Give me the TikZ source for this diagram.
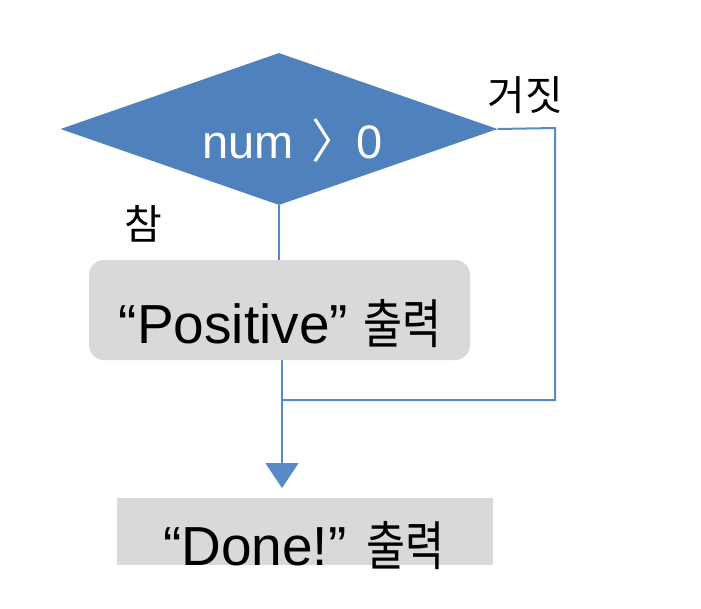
\documentclass[tikz,border=0pt]{standalone}
\usepackage{fontspec}
\setmainfont{Liberation Sans}
\newfontfamily\cjk{Noto Sans CJK KR}
\newfontfamily\cjkp[RawFeature=+palt]{Noto Sans CJK KR}
\newfontfamily\cjkn[FakeStretch=0.8]{Noto Sans CJK KR}
\usetikzlibrary{shapes.geometric,arrows.meta}
\definecolor{dblue}{HTML}{4F81BD}
\definecolor{lblue}{HTML}{5A8AC6}
\definecolor{boxgray}{HTML}{D9D9D9}
\begin{document}
\begin{tikzpicture}[x=1pt,y=-1pt,
  conn/.style={draw=lblue, line width=2pt},
  decision/.style={diamond, fill=dblue, draw=none, inner sep=0pt,
    minimum width=437pt, minimum height=152pt},
  procbox/.style={rectangle, fill=boxgray, draw=none, inner sep=0pt},
  bigtxt/.style={inner sep=0pt, anchor=base, font=\fontsize{55}{60}\selectfont},
  lbl/.style={inner sep=0pt, font=\cjk\fontsize{41}{45}\selectfont}]
\useasboundingbox (0,0) rectangle (701,608);
\node[decision] (dec) at (279,129) {};
\node[inner sep=0pt, anchor=base, text=white, font=\fontsize{47}{52}\selectfont] (dectxt) at (292.5,158) {num\hspace{19pt}{\cjkp 〉}\hspace{20pt}0};
\node[procbox, rounded corners=15pt, minimum width=381pt, minimum height=100pt] (pos) at (279.5,310) {};
\node[bigtxt] (postxt) at (280,343) {“Positive” {\cjkn\fontsize{53}{60}\selectfont 출력}};
\node[procbox, minimum width=376pt, minimum height=67pt] (done) at (305,531.5) {};
\node[bigtxt] (donetxt) at (304,565) {“Done!” {\cjkn\fontsize{53}{60}\selectfont 출력}};
\node[lbl] (false) at (525,95) {거짓};
\node[lbl] (true) at (143,224) {참};
\coordinate (join) at (282,400);
\coordinate (tip) at (282,488);
\draw[conn] (dec.south) -- (dec.south |- pos.north);
\draw[conn] (dec.east) -- (555,128) -- (555,400) -- (join);
\draw[conn, -{Triangle[width=33pt,length=25pt]}, lblue] (join |- pos.south) -- (tip);
\end{tikzpicture}
\end{document}
